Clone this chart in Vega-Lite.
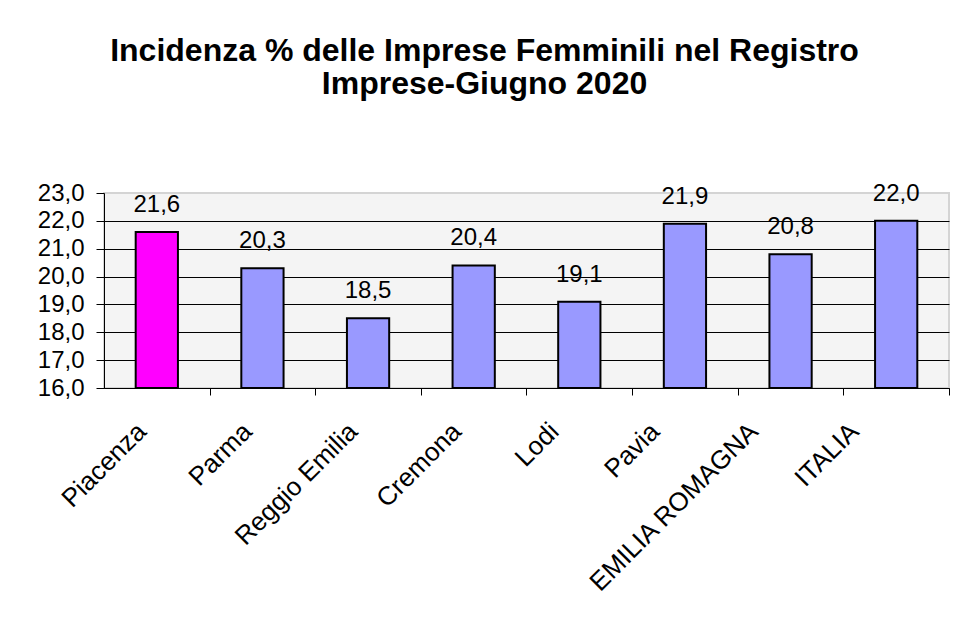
{
  "$schema": "https://vega.github.io/schema/vega-lite/v6.json",
  "autosize": "none",
  "width": 845,
  "height": 195,
  "padding": {"left": 104, "top": 193, "right": 5, "bottom": 231},
  "background": "white",
  "config": {
    "locale": {"number": {"decimal": ",", "thousands": ".", "grouping": [3], "currency": ["€", ""]}},
    "font": "Liberation Sans",
    "view": {"fill": "#f4f4f4", "stroke": "#d4d4d4", "strokeWidth": 2}
  },
  "title": {
    "text": ["Incidenza % delle Imprese Femminili nel Registro", "Imprese-Giugno 2020"],
    "font": "Liberation Sans",
    "fontSize": 32,
    "fontWeight": "bold",
    "color": "black",
    "lineHeight": 33,
    "anchor": "middle",
    "dx": -42,
    "offset": 80
  },
  "data": {
    "values": [
      {"name": "Piacenza", "value": 21.6},
      {"name": "Parma", "value": 20.3},
      {"name": "Reggio Emilia", "value": 18.5},
      {"name": "Cremona", "value": 20.4},
      {"name": "Lodi", "value": 19.1},
      {"name": "Pavia", "value": 21.9},
      {"name": "EMILIA ROMAGNA", "value": 20.8},
      {"name": "ITALIA", "value": 22.0}
    ]
  },
  "encoding": {
    "x": {
      "field": "name",
      "type": "nominal",
      "sort": null,
      "title": null,
      "scale": {"paddingInner": 0.6, "paddingOuter": 0.3},
      "axis": {
        "labelAngle": -45,
        "labelAlign": "right",
        "labelBaseline": "middle",
        "labelFontSize": 26,
        "labelColor": "black",
        "labelPadding": 32,
        "labelOffset": {
          "condition": [
            {"test": "datum.value === 'Lodi'", "value": -78},
            {"test": "datum.value === 'Pavia'", "value": -83},
            {"test": "datum.value === 'EMILIA ROMAGNA'", "value": -90},
            {"test": "datum.value === 'ITALIA'", "value": -95},
            {"test": "datum.value === 'Cremona'", "value": -70}
          ],
          "value": -68
        },
        "labelLimit": 400,
        "tickOffset": 52.8,
        "tickSize": 7,
        "tickColor": "black",
        "domainColor": "black",
        "domainWidth": 1,
        "grid": false
      }
    },
    "y": {
      "field": "value",
      "type": "quantitative",
      "title": null,
      "scale": {"domain": [16, 23], "nice": false, "zero": false},
      "axis": {
        "values": [16, 17, 18, 19, 20, 21, 22, 23],
        "format": ".1f",
        "labelFontSize": 24,
        "labelColor": "black",
        "labelPadding": 12,
        "tickSize": 8,
        "tickColor": "black",
        "domainColor": "black",
        "domainWidth": 1,
        "grid": true,
        "gridColor": {"condition": {"test": "datum.value === 23", "value": "#d4d4d4"}, "value": "black"},
        "gridWidth": 1,
        "gridOpacity": 1
      }
    }
  },
  "layer": [
    {
      "mark": {"type": "bar", "stroke": "black", "strokeWidth": 2},
      "encoding": {
        "y2": {"datum": 16},
        "fill": {"condition": {"test": "datum.name === 'Piacenza'", "value": "#ff00ff"}, "value": "#9999ff"}
      }
    },
    {
      "mark": {"type": "text", "fontSize": 24, "baseline": "alphabetic", "dy": -20, "color": "black"},
      "encoding": {
        "text": {"field": "value", "type": "quantitative", "format": ".1f"}
      }
    }
  ]
}
